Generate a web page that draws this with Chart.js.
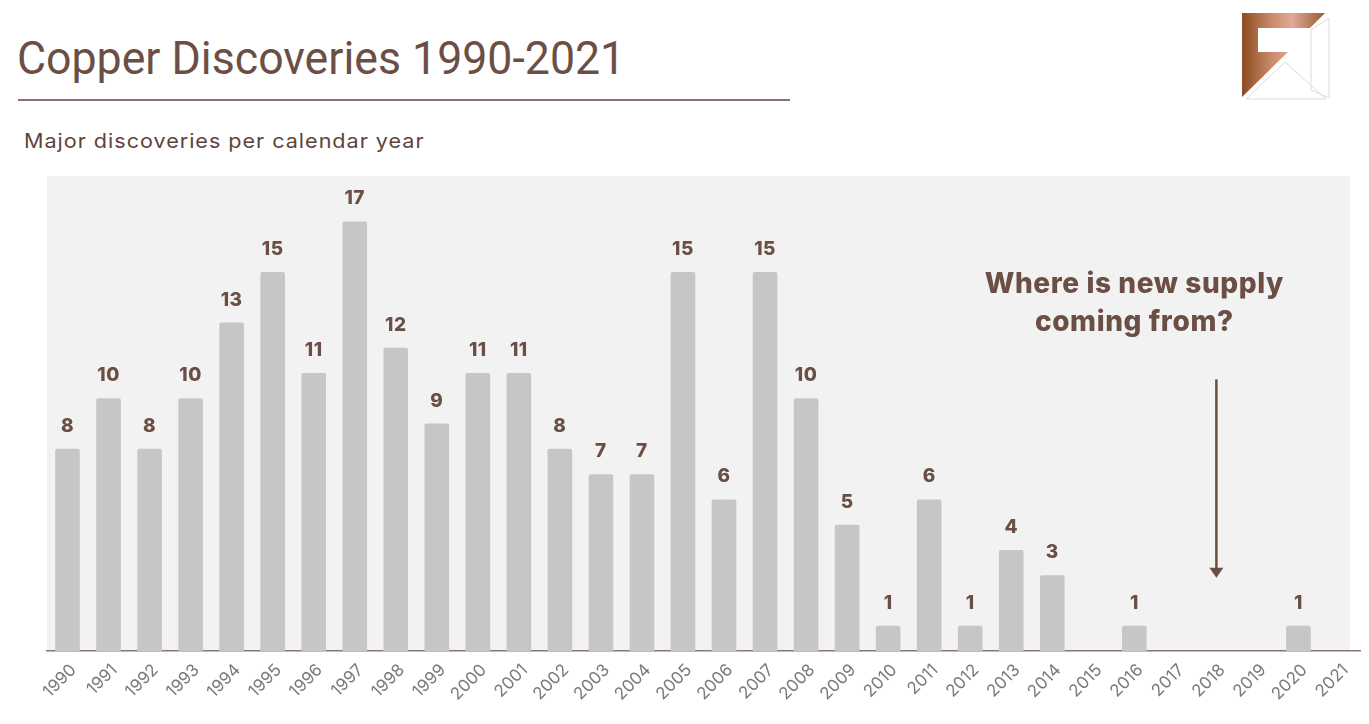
<!DOCTYPE html>
<html>
<head>
<meta charset="utf-8">
<script src="https://cdn.jsdelivr.net/npm/chart.js@4"></script>
<style>
  html, body { margin: 0; padding: 0; background: #fff; }
  #wrap { position: relative; width: 1369px; height: 724px; overflow: hidden; }
  #title {
    position: absolute; left: 17px; top: 34px;
    font-family: Roboto, sans-serif; font-size: 47px; line-height: 1;
    color: #6b4f45; transform: scaleX(0.95); transform-origin: left top;
    white-space: nowrap;
  }
  #rule { position: absolute; left: 18px; top: 99px; width: 772px; height: 2px; background: #8a7068; }
  #sub {
    position: absolute; left: 24px; top: 131px;
    font-family: Inter, sans-serif; font-size: 20px; line-height: 1;
    letter-spacing: 0.9px;
    color: #5e433a; white-space: nowrap;
    transform: scaleX(1.08); transform-origin: left top;
  }
  #logo { position: absolute; left: 1236px; top: 8px; }
  canvas { position: absolute; left: 0; top: 0; }
</style>
</head>
<body>
<div id="wrap">
  <div id="title">Copper Discoveries 1990-2021</div>
  <div id="rule"></div>
  <div id="sub">Major discoveries per calendar year</div>
  <svg id="logo" width="100" height="100" viewBox="1236 8 100 100">
    <defs>
      <linearGradient id="cu" x1="0" y1="0" x2="1" y2="0">
        <stop offset="0" stop-color="#8a4a22"/>
        <stop offset="0.35" stop-color="#c98a68"/>
        <stop offset="0.6" stop-color="#e0a898"/>
        <stop offset="1" stop-color="#9a5a30"/>
      </linearGradient>
    </defs>
    <polygon points="1242,13 1325,13 1310,28 1258,28 1258,52 1288,52 1242,97" fill="url(#cu)"/>
    <polygon points="1311,30 1329,18 1329,98 1311,90" fill="none" stroke="#dcdcdc" stroke-width="1"/>
    <polygon points="1285,62 1246,99 1326,99" fill="none" stroke="#dcdcdc" stroke-width="1"/>
  </svg>
  <canvas id="stage" width="1369" height="724"></canvas>
</div>
<script>
const years = ['1990','1991','1992','1993','1994','1995','1996','1997','1998','1999',
  '2000','2001','2002','2003','2004','2005','2006','2007','2008','2009',
  '2010','2011','2012','2013','2014','2015','2016','2017','2018','2019','2020','2021'];
const discoveries = [8,10,8,10,13,15,11,17,12,9,11,11,8,7,7,15,6,15,10,5,1,6,1,4,3,null,1,null,null,null,1,null];

const noteLines = ['Where is new supply', 'coming from?'];
const noteYear = '2016';
const noteLevels = [14.5, 13.0];
const arrowYear = '2018';
const arrowFrom = 10.75;
const arrowTo = 2.9;

const brown = '#6b4f45';

const bgPlugin = {
  id: 'bg',
  beforeDraw(chart) {
    const a = chart.chartArea, ctx = chart.ctx;
    ctx.save();
    ctx.fillStyle = '#f2f2f2';
    ctx.fillRect(a.left, a.top, a.right - a.left - 10, a.bottom - a.top);
    ctx.restore();
  }
};

const labelPlugin = {
  id: 'vals',
  afterDatasetsDraw(chart) {
    const ctx = chart.ctx;
    const meta = chart.getDatasetMeta(0);
    ctx.save();
    ctx.fillStyle = brown;
    ctx.font = '800 19px Inter, sans-serif';
    ctx.textAlign = 'center';
    ctx.textBaseline = 'alphabetic';
    ctx.letterSpacing = '0.5px';
    meta.data.forEach((bar, i) => {
      const v = discoveries[i];
      if (v == null) return;
      ctx.fillText(String(v), bar.x, bar.y - 17);
    });

    const x = chart.scales.x, y = chart.scales.y;
    ctx.font = '800 28px Inter, sans-serif';
    ctx.letterSpacing = '0.6px';
    ctx.textBaseline = 'middle';
    const nx = x.getPixelForValue(years.indexOf(noteYear));
    noteLines.forEach((t, i) => ctx.fillText(t, nx, y.getPixelForValue(noteLevels[i])));

    const ax = x.getPixelForValue(years.indexOf(arrowYear));
    const y0 = y.getPixelForValue(arrowFrom), y1 = y.getPixelForValue(arrowTo);
    ctx.strokeStyle = brown;
    ctx.lineWidth = 2.5;
    ctx.beginPath();
    ctx.moveTo(ax, y0);
    ctx.lineTo(ax, y1 - 8);
    ctx.stroke();
    ctx.beginPath();
    ctx.moveTo(ax - 7, y1 - 10);
    ctx.lineTo(ax + 7, y1 - 10);
    ctx.lineTo(ax, y1);
    ctx.closePath();
    ctx.fill();
    ctx.restore();
  }
};

new Chart(document.getElementById('stage'), {
  type: 'bar',
  data: {
    labels: years,
    datasets: [{
      data: discoveries,
      backgroundColor: '#c6c6c6',
      borderRadius: 2,
      borderSkipped: 'bottom',
      barPercentage: 0.6,
      categoryPercentage: 1.0
    }]
  },
  options: {
    responsive: false,
    animation: false,
    layout: { padding: { top: 176, left: 47, right: 9, bottom: 13 } },
    plugins: { legend: { display: false }, tooltip: { enabled: false } },
    scales: {
      x: {
        grid: { display: false, drawTicks: false },
        border: { color: '#8b7770', width: 1.5 },
        afterFit(s) { s.height = 60; },
        ticks: {
          color: '#7a7a7a',
          font: { family: 'Inter, sans-serif', size: 17 },
          minRotation: 45,
          maxRotation: 45,
          padding: 9,
          labelOffset: 6,
          autoSkip: false
        }
      },
      y: {
        display: false,
        min: 0,
        max: 18.8
      }
    }
  },
  plugins: [bgPlugin, labelPlugin]
});
</script>
</body>
</html>
